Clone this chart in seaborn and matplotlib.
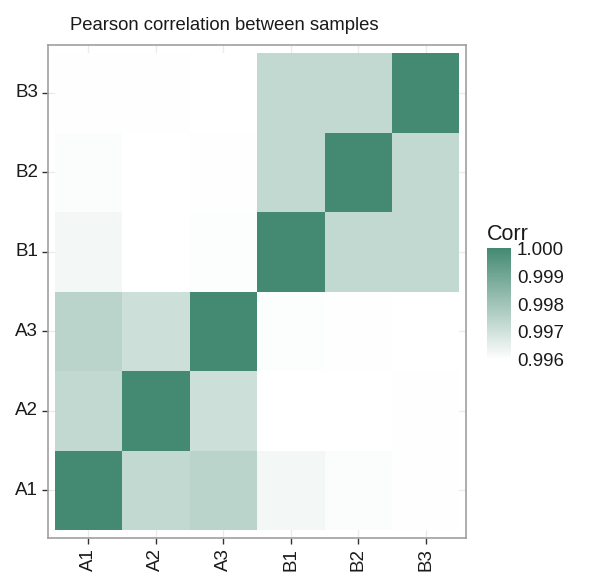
import numpy as np
import pandas as pd
import matplotlib
matplotlib.use("Agg")
import matplotlib.pyplot as plt
from matplotlib.colors import LinearSegmentedColormap
import seaborn as sns

samples = ["A1", "A2", "A3", "B1", "B2", "B3"]
# correlation matrix (rows/cols in sample order)
corr_rows = [
    [1.00000, 0.99730, 0.99748, 0.99627, 0.99609, 0.99604],  # A1
    [0.99730, 1.00000, 0.99709, 0.99601, 0.99600, 0.99604],  # A2
    [0.99748, 0.99709, 1.00000, 0.99607, 0.99606, 0.99603],  # A3
    [0.99627, 0.99601, 0.99607, 1.00000, 0.99730, 0.99730],  # B1
    [0.99609, 0.99600, 0.99606, 0.99730, 1.00000, 0.99730],  # B2
    [0.99604, 0.99604, 0.99603, 0.99730, 0.99730, 1.00000],  # B3
]
cbar_ticks = [0.996, 0.997, 0.998, 0.999, 1.000]
cbar_labels = ["0.996", "0.997", "0.998", "0.999", "1.000"]
title = "Pearson correlation between samples"

sns.set_style("white")
plt.rcParams["font.family"] = ["Liberation Sans", "DejaVu Sans"]

df = pd.DataFrame(corr_rows, index=samples, columns=samples)
# display with A1 at bottom
df_plot = df.iloc[::-1]

cmap = LinearSegmentedColormap.from_list("wg", ["#ffffff", "#448a72"])

fig = plt.figure(figsize=(6.0, 5.87), dpi=100)
ax = fig.add_axes([0.08, 0.0835, 0.697, 0.8395])
cax = fig.add_axes([0.812, 0.387, 0.040, 0.19])

sns.heatmap(df_plot, ax=ax, cmap=cmap, vmin=0.996, vmax=1.0, cbar=True,
            cbar_ax=cax, square=False, linewidths=0,
            cbar_kws={"ticks": cbar_ticks})

ax.set_xlim(-0.1, 6.1)
ax.set_ylim(6.1, -0.1)
ax.set_xlabel("")
ax.set_ylabel("")
ax.set_xticks(np.arange(6) + 0.5)
ax.set_xticklabels(samples, rotation=90, fontsize=13.5, color="#1a1a1a")
ax.set_yticks(np.arange(6) + 0.5)
ax.set_yticklabels(samples[::-1], rotation=0, fontsize=13.5, color="#1a1a1a")
ax.tick_params(axis="both", which="both", length=4, width=1, color="#333333",
               direction="out", bottom=True, left=True, pad=3)
ax.set_axisbelow(True)
ax.grid(True, color="#ebebeb", linewidth=1)
for s in ax.spines.values():
    s.set_visible(True)
    s.set_color("#a0a0a0")
    s.set_linewidth(1.2)

fig.text(224 / 600, 1 - 25 / 587, title, fontsize=13.3, color="#1a1a1a",
         ha="center", va="center")

cax.set_title("Corr", fontsize=15.5, loc="left", color="#1a1a1a", pad=6)
cax.set_yticklabels(cbar_labels)
cax.tick_params(axis="y", length=4, width=0.8, direction="in", colors="white",
                labelcolor="#1a1a1a", labelsize=13.5, pad=4, right=True, left=True)
for s in cax.spines.values():
    s.set_visible(False)

fig.savefig("out.png", dpi=100)
